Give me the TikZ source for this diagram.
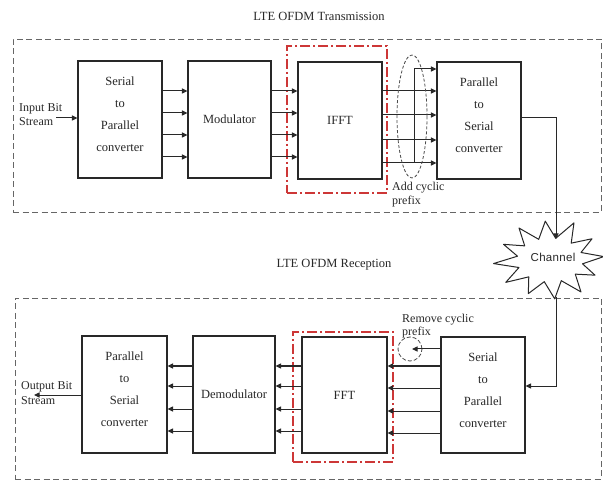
\documentclass[tikz,border=0pt]{standalone}
\usepackage{fontspec}
\setmainfont{Liberation Serif}
\newfontfamily\chanfont{Liberation Sans}
\usetikzlibrary{arrows.meta,shapes.geometric,calc}
\definecolor{redc}{RGB}{205,55,55}
\definecolor{ink}{RGB}{40,40,40}
\begin{document}
\begin{tikzpicture}[x=1pt,y=-1pt,
  box/.style={draw=ink, line width=1.1pt, fill=white, inner sep=0pt},
  boxtxt/.style={align=center, font=\fontsize{12.5}{22}\selectfont, text=ink, inner sep=0pt},
  arr/.style={draw=ink, line width=1pt, -{Triangle[length=5.5pt,width=5pt]}},
  plain/.style={draw=ink, line width=1pt},
  outerbox/.style={draw=black!60, line width=0.9pt, dash pattern=on 6pt off 3.5pt, inner sep=0pt},
  redbox/.style={draw=redc, line width=1.5pt, dash pattern=on 10pt off 3pt on 2pt off 3pt, inner sep=0pt},
  cpmark/.style={draw=black!70, line width=0.8pt, dash pattern=on 3pt off 2pt, inner sep=0pt},
  lbl/.style={align=left, font=\fontsize{12}{14}\selectfont, text=ink, inner sep=0pt, anchor=north west},
  ttl/.style={font=\fontsize{12.5}{14}\selectfont, text=ink, inner sep=0pt}
]
\useasboundingbox (0,0) rectangle (603,481);
\fill[white] (0,0) rectangle (603,481);

% ---------- Transmission ----------
\node[ttl] (ttltx) at (319,16) {LTE OFDM Transmission};
\node[outerbox, minimum width=588pt, minimum height=173pt] (outer1) at (307,125.5) {};
\node[redbox, minimum width=100pt, minimum height=147pt] (grp1) at (337,119.5) {};

\node[box, minimum width=84pt, minimum height=117pt] (s2p1) at (120,119.5) {};
\node[boxtxt] (s2p1t) at ([yshift=5pt]s2p1.center) {Serial\\to\\Parallel\\converter};
\node[box, minimum width=83pt, minimum height=117pt, font=\fontsize{12.5}{14}\selectfont, text=ink] (mod) at (229.5,119.5) {Modulator};
\node[box, minimum width=84pt, minimum height=117pt, font=\fontsize{12.5}{14}\selectfont, text=ink] (ifft) at (340,120.5) {IFFT};
\node[box, minimum width=84pt, minimum height=117pt] (p2s1) at (479,120.5) {};
\node[boxtxt] (p2s1t) at ([yshift=5pt]p2s1.center) {Parallel\\to\\Serial\\converter};

\coordinate (t1) at (0,91);
\coordinate (t2) at (0,113);
\coordinate (t3) at (0,135);
\coordinate (t4) at (0,157);
\coordinate (u1) at (0,91);
\coordinate (u2) at (0,115);
\coordinate (u3) at (0,140);
\coordinate (u4) at (0,163);

\foreach \r in {t1,t2,t3,t4}{
  \draw[arr] (s2p1.east |- \r) -- (mod.west |- \r);
  \draw[arr] (mod.east |- \r) -- (ifft.west |- \r);
}
\foreach \r in {u1,u2,u3,u4}{
  \draw[arr] (ifft.east |- \r) -- (p2s1.west |- \r);
}
\coordinate (busTop) at (414,69);
\coordinate (busBot) at (414,163);
\draw[plain] (busTop) -- (busBot);
\draw[arr] (busTop) -- (p2s1.west |- busTop);
\node[cpmark, ellipse, minimum width=30pt, minimum height=123pt] (cp) at (412,116.5) {};
\node[lbl] (cplbl) at (392,182) {Add cyclic\\prefix};

\node[lbl] (inlbl) at (19,103) {Input Bit\\Stream};
\coordinate (inStart) at (56,118);
\draw[arr] (inStart) -- (s2p1.west |- inStart);

% ---------- Channel ----------
\draw[draw=ink, line width=1pt, line join=round, fill=white]
  \foreach \k/\f in {0/1.0,1/1.05,2/0.95,3/1.0,4/0.92,5/1.0,6/1.0,7/0.95,8/1.0,9/1.05,10/0.95,11/1.0}{
    \ifnum\k=0 ({550+54*\f*cos(-95+30*\k)},{260+39*\f*sin(-95+30*\k)}) \else -- ({550+54*\f*cos(-95+30*\k)},{260+39*\f*sin(-95+30*\k)}) \fi
    -- ({550+33*cos(-80+30*\k)},{260+22*sin(-80+30*\k)})
  } -- cycle;
\node[font=\chanfont\fontsize{11.5}{13}\selectfont, text=ink, inner sep=0pt] (chan) at (553,257) {C\kern0.3pt h\kern0.3pt a\kern0.3pt n\kern0.3pt n\kern0.3pt e\kern0.3pt l};
\coordinate (chTop) at (556,239);
\coordinate (chBot) at (556,297);
\draw[arr] (p2s1.east |- 0,118) -| (chTop);

% ---------- Reception ----------
\node[ttl] (ttlrx) at (334,265) {LTE OFDM Reception};
\node[outerbox, minimum width=586pt, minimum height=181pt] (outer2) at (308,388.5) {};
\node[redbox, minimum width=100pt, minimum height=130pt] (grp2) at (343,397) {};

\node[box, minimum width=85pt, minimum height=117pt] (p2s2) at (124.5,394.5) {};
\node[boxtxt] (p2s2t) at ([yshift=5pt]p2s2.center) {Parallel\\to\\Serial\\converter};
\node[box, minimum width=82pt, minimum height=117pt, font=\fontsize{12.5}{14}\selectfont, text=ink] (demod) at (234,394.5) {Demodulator};
\node[box, minimum width=85pt, minimum height=116pt, font=\fontsize{12.5}{14}\selectfont, text=ink] (fft) at (344.5,395) {FFT};
\node[box, minimum width=84pt, minimum height=116pt] (s2p2) at (483,395) {};
\node[boxtxt] (s2p2t) at ([yshift=5pt]s2p2.center) {Serial\\to\\Parallel\\converter};

\coordinate (b1) at (0,366);
\coordinate (b2) at (0,386);
\coordinate (b3) at (0,409);
\coordinate (b4) at (0,431);
\coordinate (c1) at (0,366);
\coordinate (c2) at (0,388);
\coordinate (c3) at (0,411);
\coordinate (c4) at (0,433);
\foreach \r in {b1,b2,b3,b4}{
  \draw[arr] (demod.west |- \r) -- (p2s2.east |- \r);
  \draw[arr] (fft.west |- \r) -- (demod.east |- \r);
}
\foreach \r in {c1,c2,c3,c4}{
  \draw[arr] (s2p2.west |- \r) -- (fft.east |- \r);
}
\node[cpmark, circle, minimum size=24pt, dash pattern=on 4pt off 2pt] (rcp) at (410,349) {};
\draw[arr] (s2p2.west |- rcp) -- ([xshift=2pt]rcp.center);
\node[lbl, font=\fontsize{12}{12.5}\selectfont] (rcplbl) at (402,314) {Remove cyclic\\prefix};

\coordinate (chIn) at (0,386);
\draw[arr] (chBot) |- (s2p2.east |- chIn);

\node[lbl, font=\fontsize{12}{15.5}\selectfont] (outlbl) at (21,381) {Output Bit\\Stream};
\coordinate (outEnd) at (34,395);
\draw[arr] (p2s2.west |- outEnd) -- (outEnd);
\end{tikzpicture}
\end{document}
